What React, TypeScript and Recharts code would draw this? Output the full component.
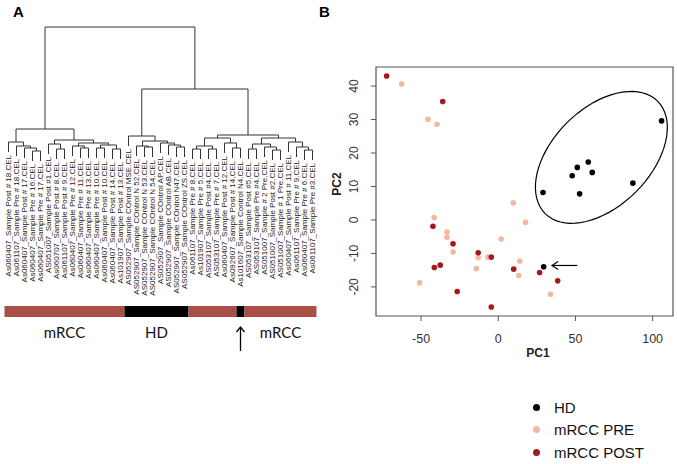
import { ScatterChart, Scatter, XAxis, YAxis, ReferenceArea } from "recharts";

// ---------- panel A : hierarchical clustering ----------
const leafLabels = [
  "As060407_Sample Post # 18.CEL",
  "As061107_Sample Pre # 18.CEL",
  "As060407_Sample Post # 17.CEL",
  "As060407_Sample Pre # 16.CEL",
  "As060407_Sample Pre # 17.CEL",
  "AS051007_Sample Post #1.CEL",
  "As060707_Sample Post # 8.CEL",
  "As061107_Sample Post # 9.CEL",
  "As060407_Sample Pre # 12.CEL",
  "As060407_Sample Pre # 11.CEL",
  "As060407_Sample Pre # 13.CEL",
  "As060407_Sample Pre # 10.CEL",
  "As060407_Sample Post # 10.CEL",
  "As060407_Sample Post # 14.CEL",
  "As101907_Sample Post # 13.CEL",
  "AS052907_Sample COntrol MSE.CEL",
  "AS052907_Sample COntrol N 52.CEL",
  "AS052907_Sample COntrol N 53.CEL",
  "AS052907_Sample COntrol N 54.CEL",
  "AS052907_Sample COntrol AP.CEL",
  "AS052907_Sample COntrol AB.CEL",
  "AS052907_Sample COntrol N47.CEL",
  "AS052907_Sample COntrol ZS.CEL",
  "As061107_Sample Pre # 8.CEL",
  "As101907_Sample Pre # 5.CEL",
  "AS053107_Sample Post #4.CEL",
  "AS053107_Sample Pre # 7.CEL",
  "As060407_Sample Post # 12.CEL",
  "As092607_Sample Post # 14.CEL",
  "As101607_Sample Control N4.CEL",
  "AS053107_Sample Post #5.CEL",
  "AS053107_Sample Pre #4.CEL",
  "AS051007_Sample # 2 Pre.CEL",
  "AS051007_Sample Post #2.CEL",
  "AS051007_Sample # 1 Pre.CEL",
  "As060407_Sample Post # 11.CEL",
  "As061107_Sample Pre # 9.CEL",
  "As060407_Sample Pre # 6.CEL",
  "As061107_Sample Pre #3.CEL",
];

// hclust style merge table: negative = leaf (1-based), positive = earlier merge
const mergeLeft = [-4, -3, -2, -1, -7, -6, -10, -9, -12, -14, 9, 8, 6, 4,
  -18, -17, -22, -21, -20, 16, -16,
  -24, -26, 22, -29, -28, 24, -31, -34, -33, 28, -38, -37, -36, 31, 27, 21, 14];
const mergeRight = [-5, 1, 2, 3, -8, 5, -11, 7, -13, -15, 10, 11, 12, 13,
  -19, 15, -23, 17, 18, 19, 20,
  -25, -27, 23, -30, 25, 26, -32, -35, 29, 30, -39, 32, 33, 34, 35, 36, 37];
const mergeHeight = [19, 22, 24, 28, 21, 26, 22, 24, 22, 21, 25, 27, 30, 41,
  23, 24, 23, 25, 27, 29, 34,
  21, 21, 24, 22, 27, 32, 21, 20, 23, 26, 20, 23, 28, 32, 35, 81, 143];

const groupNames = ["mRCC", "HD", "mRCC", "HD", "mRCC"];
const groupFrom = [0, 15, 23, 29, 30];
const groupTo = [15, 23, 29, 30, 39];

// ---------- panel B : PCA ----------
const hdPC1 = [105.8, 58.3, 51.2, 47.9, 60.9, 87.2, 29.0, 52.7, 29.4];
const hdPC2 = [29.6, 17.3, 15.7, 13.2, 14.2, 11.0, 8.2, 7.8, -14.0];
const prePC1 = [-62.6, -45.5, -39.7, 9.7, 17.7, -41.5, -33.2, -33.2, 1.9, -29.3, -13.0, -6.7, -14.2, 13.9, 13.2, -50.9, 33.9];
const prePC2 = [40.6, 30.1, 28.6, 5.1, -0.7, 0.7, -3.6, -5.2, -5.7, -9.6, -11.3, -11.1, -14.5, -12.3, -16.6, -18.8, -22.2];
const postPC1 = [-72.3, -36.0, -42.3, -29.3, -13.0, -4.5, -37.6, -41.4, 10.0, 26.8, 38.5, -26.6, -4.5];
const postPC2 = [43.0, 35.4, -1.9, -7.1, -9.8, -11.1, -13.5, -14.2, -14.7, -15.7, -18.2, -21.4, -26.0];

const seriesNames = ["HD", "mRCC PRE", "mRCC POST"];
const seriesColors = ["#000000", "#F4B8A2", "#A3191E"];

const xTicks = [-50, 0, 50, 100];
const yTicks = [-20, -10, 0, 10, 20, 30, 40];

// HD ellipse: centre and half-axis vectors in PC units
const ellipseCenter = [66.8, 18.7];
const ellipseU = [36.4, 16.8];
const ellipseV = [-22.4, 10.3];

const BAR_RED = "#A94F48";
const HANG = 10;

const leafParentH: number[] = leafLabels.map(() => 0);
mergeLeft.forEach((l, k) => {
  [l, mergeRight[k]].forEach((c) => {
    if (c < 0) leafParentH[-c - 1] = mergeHeight[k];
  });
});
const nodeX: number[] = [];
const links: { x: number; y: number }[][] = [];
const childPos = (c: number) =>
  c < 0
    ? { x: -c - 0.5, y: leafParentH[-c - 1] - HANG }
    : { x: nodeX[c - 1], y: mergeHeight[c - 1] };
mergeLeft.forEach((l, k) => {
  const a = childPos(l);
  const b = childPos(mergeRight[k]);
  const h = mergeHeight[k];
  nodeX[k] = (a.x + b.x) / 2;
  links.push([a, { x: a.x, y: h }, { x: b.x, y: h }, b]);
});
const leafData = leafLabels.map((label, i) => ({
  x: i + 0.5,
  y: leafParentH[i] - HANG - 3,
  label,
}));

const pcaData = [
  hdPC1.map((x, i) => ({ x, y: hdPC2[i] })),
  prePC1.map((x, i) => ({ x, y: prePC2[i] })),
  postPC1.map((x, i) => ({ x, y: postPC2[i] })),
];

const ellipsePts = Array.from({ length: 73 }, (_, i) => {
  const t = (i / 72) * Math.PI * 2;
  return {
    x: ellipseCenter[0] + Math.cos(t) * ellipseU[0] + Math.sin(t) * ellipseV[0],
    y: ellipseCenter[1] + Math.cos(t) * ellipseU[1] + Math.sin(t) * ellipseV[1],
  };
});

const noDot = () => <g />;

const LeafLabel = (p: any) => (
  <text
    x={0}
    y={0}
    transform={`translate(${p.cx + 2.9},${p.cy}) rotate(-90)`}
    textAnchor="end"
    fontSize={8}
    fill="#222"
  >
    {p.payload.label}
  </text>
);

const YTick = (p: any) => (
  <text
    x={p.x}
    y={p.y}
    transform={`rotate(-90 ${p.x} ${p.y})`}
    textAnchor="middle"
    fontSize={12}
    fill="#333"
  >
    {p.payload.value}
  </text>
);

const font = "'Liberation Sans', Arial, sans-serif";

export default function App() {
  return (
    <div style={{ position: "absolute", left: 0, top: 0, width: 677, height: 464, background: "#fff", fontFamily: font }}>
      <div style={{ position: "absolute", left: 13, top: 3, fontSize: 15, fontWeight: "bold" }}>A</div>
      <div style={{ position: "absolute", left: 319, top: 3, fontSize: 15, fontWeight: "bold" }}>B</div>

      <div style={{ position: "absolute", left: 0, top: 0 }}>
        <ScatterChart width={330} height={370} margin={{ top: 25, right: 13.5, bottom: 0, left: 4.5 }}>
          <XAxis type="number" dataKey="x" domain={[0, 39]} hide />
          <YAxis type="number" dataKey="y" domain={[-200, 145]} hide />
          {links.map((pts, k) => (
            <Scatter
              key={k}
              data={pts}
              line={{ stroke: "#333", strokeWidth: 1 }}
              shape={noDot}
              isAnimationActive={false}
            />
          ))}
          <Scatter data={leafData} shape={LeafLabel} isAnimationActive={false} />
          {groupNames.map((g, i) => (
            <ReferenceArea
              key={i}
              x1={groupFrom[i]}
              x2={groupTo[i]}
              y1={-147}
              y2={-136}
              fill={g === "HD" ? "#000" : BAR_RED}
              fillOpacity={1}
              stroke="none"
            />
          ))}
          {[0, 1, 4].map((i) => (
            <ReferenceArea
              key={"t" + i}
              x1={groupFrom[i]}
              x2={groupTo[i]}
              y1={-171}
              y2={-155}
              fill="none"
              stroke="none"
              label={{ value: groupNames[i], position: "center", fontSize: 15, fill: "#111", fontFamily: "Lato" }}
            />
          ))}
          <Scatter
            data={[{ x: 29.5, y: -181 }, { x: 29.5, y: -157 }]}
            line={{ stroke: "#000", strokeWidth: 1.3 }}
            shape={noDot}
            isAnimationActive={false}
          />
          <Scatter
            data={[{ x: 29.0, y: -162 }, { x: 29.5, y: -157 }, { x: 30.0, y: -162 }]}
            line={{ stroke: "#000", strokeWidth: 1.3 }}
            shape={noDot}
            isAnimationActive={false}
          />
        </ScatterChart>
      </div>

      <div style={{ position: "absolute", left: 330, top: 0 }}>
        <ScatterChart width={347} height={464} margin={{ top: 67, right: 4, bottom: 108, left: 6 }}>
          <XAxis
            type="number"
            dataKey="x"
            domain={[-79.2, 113.2]}
            allowDataOverflow
            ticks={xTicks}
            axisLine={false}
            tickLine={{ stroke: "#555" }}
            tickSize={5}
            tickMargin={13}
            height={40}
            tick={{ fontSize: 12.5, fill: "#333" }}
          />
          <YAxis
            type="number"
            dataKey="y"
            domain={[-28.7, 45.7]}
            allowDataOverflow
            ticks={yTicks}
            axisLine={false}
            tickLine={{ stroke: "#555" }}
            tickSize={5}
            tickMargin={13}
            width={40}
            tick={YTick}
          />
          <ReferenceArea x1={-79.2} x2={113.2} y1={-28.7} y2={45.7} fill="none" stroke="#555" strokeWidth={1.2} />
          {pcaData.map((d, s) => (
            <Scatter
              key={s}
              name={seriesNames[s]}
              data={d}
              fill={seriesColors[s]}
              shape={(p: any) => <circle cx={p.cx} cy={p.cy} r={2.8} fill={seriesColors[s]} />}
              isAnimationActive={false}
            />
          ))}
          <Scatter data={ellipsePts} line={{ stroke: "#000", strokeWidth: 1.2 }} shape={noDot} isAnimationActive={false} />
          <Scatter
            data={[{ x: 51.2, y: -13.6 }, { x: 34.8, y: -13.6 }]}
            line={{ stroke: "#000", strokeWidth: 1.2 }}
            shape={noDot}
            isAnimationActive={false}
          />
          <Scatter
            data={[{ x: 38.8, y: -12.4 }, { x: 34.8, y: -13.6 }, { x: 38.8, y: -14.8 }]}
            line={{ stroke: "#000", strokeWidth: 1.2 }}
            shape={noDot}
            isAnimationActive={false}
          />
        </ScatterChart>
      </div>

      <div style={{ position: "absolute", left: 538, top: 353, transform: "translate(-50%,-50%)", fontSize: 12, fontWeight: "bold", color: "#222" }}>
        PC1
      </div>
      <div style={{ position: "absolute", left: 337, top: 184, transform: "translate(-50%,-50%) rotate(-90deg)", fontSize: 12, fontWeight: "bold", color: "#222" }}>
        PC2
      </div>

      <div style={{ position: "absolute", left: 532, top: 396 }}>
        {seriesNames.map((n, i) => (
          <div key={n} style={{ display: "flex", alignItems: "center", height: 22.5 }}>
            <span style={{ display: "inline-block", width: 7, height: 7, borderRadius: "50%", background: seriesColors[i], marginLeft: 1, marginRight: 14 }} />
            <span style={{ fontSize: 15, color: "#111" }}>{n}</span>
          </div>
        ))}
      </div>
    </div>
  );
}
